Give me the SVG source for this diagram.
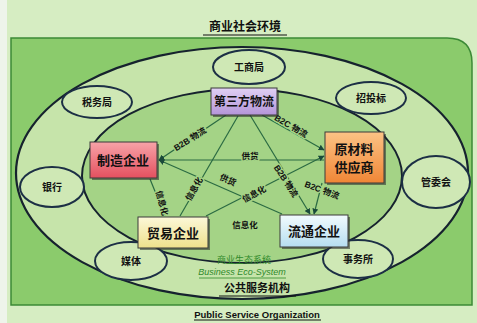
<svg xmlns="http://www.w3.org/2000/svg" width="477" height="323" viewBox="0 0 477 323">
<defs>
<style>
.cjk{font-family:"Liberation Sans","Noto Sans CJK SC",sans-serif;font-weight:bold;fill:#111;text-anchor:middle;dominant-baseline:central}
.small{font-size:10px}
.box{font-size:13px}
.lbl{font-size:8.5px;stroke:#a4d386;stroke-width:3;paint-order:stroke;stroke-linejoin:round}
.ell{fill:#cfe8b5;stroke:#1c2f45;stroke-width:2}
.conn{stroke:#2a6a42;stroke-width:1.2;fill:none}
.shadow{fill:#2a2a2a;opacity:0.55}
.bstroke{stroke:#3b3b3b;stroke-width:1}
</style>
<marker id="arr" viewBox="0 0 10 10" refX="9" refY="5" markerWidth="6" markerHeight="6" orient="auto-start-reverse" markerUnits="userSpaceOnUse">
<path d="M0,0 L10,5 L0,10 z" fill="#1a4a3a"/>
</marker>
<linearGradient id="gPurple" x1="0" y1="0" x2="0" y2="1"><stop offset="0" stop-color="#e0d0f4"/><stop offset="1" stop-color="#b495d8"/></linearGradient>
<linearGradient id="gRed" x1="0" y1="0" x2="0" y2="1"><stop offset="0" stop-color="#f7a3a8"/><stop offset="1" stop-color="#e4505f"/></linearGradient>
<linearGradient id="gOrange" x1="0" y1="0" x2="0" y2="1"><stop offset="0" stop-color="#fcc385"/><stop offset="1" stop-color="#f08636"/></linearGradient>
<linearGradient id="gYellow" x1="0" y1="0" x2="0" y2="1"><stop offset="0" stop-color="#fcf8d8"/><stop offset="1" stop-color="#eee08c"/></linearGradient>
<linearGradient id="gBlue" x1="0" y1="0" x2="0" y2="1"><stop offset="0" stop-color="#f2fbfe"/><stop offset="1" stop-color="#b6def0"/></linearGradient>
</defs>

<rect x="0" y="0" width="477" height="323" fill="#d6edc2"/>
<rect x="0" y="0" width="7" height="323" fill="#eef4ea"/>

<g id="title">
<text class="cjk" x="245" y="27" style="font-size:12px">商业社会环境</text>
<line x1="203" y1="35" x2="287" y2="35" stroke="#111" stroke-width="1.2"/>
</g>

<g id="frame">
<path d="M11,38 H447 Q472,38 472,63 V305 H11 Z" fill="#8bcb6c" stroke="#3c8a36" stroke-width="1.5"/>
<ellipse cx="242" cy="173" rx="226" ry="126" fill="#c6e4aa" stroke="#16222e" stroke-width="2.2"/>
<ellipse cx="242" cy="176" rx="160" ry="87" fill="#a4d386" stroke="#16222e" stroke-width="2"/>
</g>

<g id="connectors">
<line class="conn" x1="226" y1="115" x2="159" y2="160" marker-end="url(#arr)"/>
<line class="conn" x1="324" y1="160" x2="159" y2="160" marker-end="url(#arr)"/>
<line class="conn" x1="282" y1="214" x2="159" y2="160" marker-end="url(#arr)"/>
<line class="conn" x1="262" y1="115" x2="324" y2="150" marker-end="url(#arr)"/>
<line class="conn" x1="206" y1="216" x2="324" y2="156" marker-end="url(#arr)"/>
<line class="conn" x1="250" y1="115" x2="310" y2="214" marker-end="url(#arr)"/>
<line class="conn" x1="322" y1="183" x2="314" y2="214" marker-end="url(#arr)"/>
<line class="conn" x1="165" y1="216" x2="150" y2="179"/>
<line class="conn" x1="180" y1="216" x2="238" y2="116"/>
</g>

<g id="labels">
<text class="cjk lbl" transform="translate(190,139) rotate(-32)">B2B 物流</text>
<text class="cjk lbl" transform="translate(291,126) rotate(30)">B2C 物流</text>
<text class="cjk lbl" transform="translate(250,156)">供货</text>
<text class="cjk lbl" transform="translate(228,180) rotate(24)">供货</text>
<text class="cjk lbl" transform="translate(162,203) rotate(75)">信息化</text>
<text class="cjk lbl" transform="translate(194,189) rotate(-60)">信息化</text>
<text class="cjk lbl" transform="translate(254,194) rotate(-28)">信息化</text>
<text class="cjk lbl" transform="translate(286,181) rotate(57)">B2B 物流</text>
<text class="cjk lbl" transform="translate(322,190) rotate(20)">B2C 物流</text>
<text class="cjk lbl" transform="translate(245,225)">信息化</text>
</g>

<g id="n-gongshang"><ellipse class="ell" cx="249" cy="67" rx="36" ry="17"/><text class="cjk small" x="249" y="67">工商局</text></g>
<g id="n-zhaotoubiao"><ellipse class="ell" cx="371" cy="98" rx="35" ry="16"/><text class="cjk small" x="371" y="98">招投标</text></g>
<g id="n-shuiwu"><ellipse class="ell" cx="97" cy="102" rx="35" ry="16"/><text class="cjk small" x="97" y="102">税务局</text></g>
<g id="n-yinhang"><ellipse class="ell" cx="52" cy="187" rx="32" ry="20"/><text class="cjk small" x="52" y="187">银行</text></g>
<g id="n-guanweihui"><ellipse class="ell" cx="436" cy="182" rx="34" ry="26"/><text class="cjk small" x="436" y="182">管委会</text></g>
<g id="n-meiti"><ellipse class="ell" cx="131" cy="261" rx="36" ry="19"/><text class="cjk small" x="131" y="261">媒体</text></g>
<g id="n-shiwusuo"><ellipse class="ell" cx="358" cy="259" rx="35" ry="19"/><text class="cjk small" x="358" y="259">事务所</text></g>

<g id="n-disanfang">
<rect class="shadow" x="213" y="90" width="66" height="27"/>
<rect class="bstroke" x="211" y="88" width="66" height="27" fill="url(#gPurple)"/>
<text class="cjk" x="244" y="102" style="font-size:12px">第三方物流</text>
</g>
<g id="n-zhizao">
<rect class="shadow" x="92" y="144" width="67" height="36"/>
<rect class="bstroke" x="90" y="142" width="67" height="36" fill="url(#gRed)"/>
<text class="cjk box" x="123" y="160">制造企业</text>
</g>
<g id="n-yuancailiao">
<rect class="shadow" x="327" y="134" width="59" height="51"/>
<rect class="bstroke" x="325" y="132" width="59" height="51" fill="url(#gOrange)"/>
<text class="cjk box" x="354" y="149">原材料</text>
<text class="cjk box" x="354" y="167">供应商</text>
</g>
<g id="n-maoyi">
<rect class="shadow" x="140" y="219" width="70" height="31"/>
<rect class="bstroke" x="138" y="217" width="70" height="31" fill="url(#gYellow)"/>
<text class="cjk box" x="173" y="233">贸易企业</text>
</g>
<g id="n-liutong">
<rect class="shadow" x="282" y="217" width="68" height="32"/>
<rect class="bstroke" x="280" y="215" width="68" height="32" fill="url(#gBlue)"/>
<text class="cjk box" x="314" y="231">流通企业</text>
</g>

<g id="footer">
<text class="cjk" x="244" y="260" style="font-size:9px;fill:#2f8a2a;font-weight:normal">商业生态系统</text>
<text x="242" y="275" style="font-family:'Liberation Sans',sans-serif;font-size:9px;font-style:italic;fill:#2f8a2a;text-anchor:middle">Business Eco-System</text>
<line x1="199" y1="278" x2="286" y2="278" stroke="#2f8a2a" stroke-width="0.8"/>
<text class="cjk" x="257" y="288" style="font-size:11px">公共服务机构</text>
<line x1="219" y1="296" x2="296" y2="296" stroke="#111" stroke-width="1"/>
<text x="257" y="318" style="font-family:'Liberation Sans',sans-serif;font-size:9.5px;font-weight:bold;fill:#111;text-anchor:middle">Public Service Organization</text>
<line x1="194" y1="320" x2="321" y2="320" stroke="#111" stroke-width="1"/>
</g>
</svg>
